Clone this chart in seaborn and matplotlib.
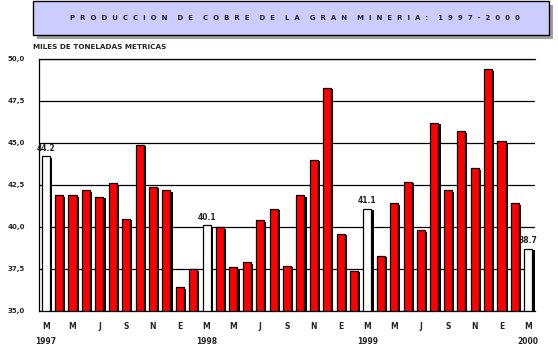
import numpy as np
import pandas as pd
import matplotlib
matplotlib.use("Agg")
import matplotlib.pyplot as plt
import seaborn as sns
from matplotlib.patches import Rectangle
from matplotlib.transforms import offset_copy, blended_transform_factory

# ---- data ----
valores = [44.2, 41.9, 41.9, 42.2, 41.8, 42.6, 40.5, 44.9, 42.4, 42.2, 36.4, 37.5,
           40.1, 40.0, 37.6, 37.9, 40.4, 41.1, 37.7, 41.9, 44.0, 48.3, 39.6, 37.4,
           41.1, 38.3, 41.4, 42.7, 39.8, 46.2, 42.2, 45.7, 43.5, 49.4, 45.1, 41.4,
           38.7]
ciclo_meses = ["M", "M", "J", "S", "N", "E"]
anios = ["1997", "1998", "1999", "2000"]
destacados = [0, 12, 24, 36]
etiquetas_valor = ["44.2", "40.1", "41.1", "38.7"]
y_ticks = [35.0, 37.5, 40.0, 42.5, 45.0, 47.5, 50.0]
y_labels = ["35,0", "37,5", "40,0", "42,5", "45,0", "47,5", "50,0"]
titulo = "PRODUCCION DE COBRE DE LA GRAN MINERIA: 1997-2000"
subtitulo = "MILES DE TONELADAS METRICAS"

n = len(valores)
df = pd.DataFrame({
    "mes": [str(i) for i in range(n)],
    "valor": valores,
    "tipo": ["blanco" if i in destacados else "rojo" for i in range(n)],
})

sns.set_style("white")
plt.rcParams["font.family"] = ["DejaVu Sans"]

W, H = 558, 349
fig = plt.figure(figsize=(W / 100, H / 100), dpi=100)
fig.patch.set_facecolor("white")

# title box with shadow
bx0, bx1, by0, by1 = 33, 549, 1, 35
fig.add_artist(Rectangle(((bx0 + 4) / W, 1 - (by1 + 4) / H), (bx1 - bx0) / W, (by1 - by0) / H,
                         transform=fig.transFigure, facecolor="#a0a0a0", edgecolor="none", zorder=1))
fig.add_artist(Rectangle((bx0 / W, 1 - by1 / H), (bx1 - bx0) / W, (by1 - by0) / H,
                         transform=fig.transFigure, facecolor="#ccccff", edgecolor="black",
                         linewidth=1.0, zorder=2))
spaced = "    ".join("  ".join(w) for w in titulo.split(" "))
fig.text(295 / W, 1 - 18 / H, spaced, ha="center", va="center",
         fontsize=5.05, fontweight="bold", zorder=3)
fig.text(33 / W, 1 - 47 / H, subtitulo, ha="left", va="center", fontsize=5.2,
         fontweight="bold")

ax = fig.add_axes([39 / W, (H - 311) / H, (535 - 39) / W, (311 - 59) / H])
sns.barplot(data=df, x="mes", y="valor", hue="tipo", order=df["mes"].tolist(),
            palette={"blanco": "white", "rojo": "#ff0000"}, dodge=False, width=0.6,
            edgecolor="black", linewidth=0.9, legend=False, ax=ax, saturation=1)

# drop shadows
shadow_tr = offset_copy(ax.transData, fig=fig, x=2.2, y=-1.5, units="dots")
for p in list(ax.patches):
    ax.add_patch(Rectangle((p.get_x(), p.get_y()), p.get_width(), p.get_height(),
                           transform=shadow_tr, facecolor="black", edgecolor="none",
                           zorder=p.get_zorder() - 0.01))

ax.set_ylim(35, 50)
ax.set_xlim(-0.5, n - 0.5)
ax.set_yticks(y_ticks)
ax.set_yticklabels(y_labels, fontsize=5.0, fontweight="bold")
ax.tick_params(axis="y", length=0, pad=10)
ax.yaxis.grid(True, color="black", linewidth=0.9)
ax.set_axisbelow(True)

xt_labels = [ciclo_meses[(i // 2) % len(ciclo_meses)] if i % 2 == 0 else "" for i in range(n)]
ax.set_xticks(range(n))
ax.set_xticklabels(xt_labels, fontsize=5.5, fontweight="bold")
ax.tick_params(axis="x", which="major", length=0, pad=8)
ax.set_xticks(np.arange(-0.5, n, 1.0), minor=True)
ax.tick_params(axis="x", which="minor", length=4, width=0.9, color="black", direction="out")
ax.set_xlabel("")
ax.set_ylabel("")

for s in ["left", "bottom", "top"]:
    ax.spines[s].set_visible(True)
    ax.spines[s].set_color("black")
    ax.spines[s].set_linewidth(0.9)
ax.spines["right"].set_visible(False)

# value labels
for idx, lab in zip(destacados, etiquetas_valor):
    ax.annotate(lab, (idx, valores[idx]), xytext=(0, 2.5), textcoords="offset points",
                ha="center", va="bottom", fontsize=5.5, fontweight="bold")

# year labels
tr = blended_transform_factory(ax.transData, ax.transAxes)
for k, a in enumerate(anios):
    ax.text(destacados[k], -0.12, a, transform=tr, ha="center", va="center",
            fontsize=5.5, fontweight="bold")

fig.savefig("out.png", dpi=100)
